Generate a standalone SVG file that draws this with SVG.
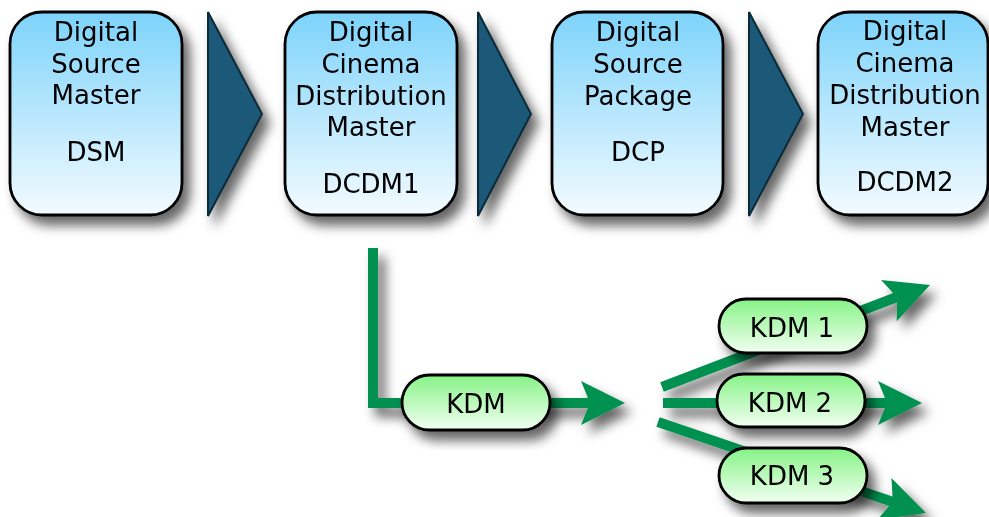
<svg xmlns="http://www.w3.org/2000/svg" xmlns:xlink="http://www.w3.org/1999/xlink" width="989" height="517" viewBox="0 0 989 517">
<style>
.box{fill:url(#blueGrad);stroke:#000;stroke-width:2.8}
.pill{fill:url(#greenGrad);stroke:#000;stroke-width:2.8}
.tri{fill:#1a5978;stroke:#0b2a38;stroke-width:2}
.lbl{font-family:"DejaVu Sans",Verdana,sans-serif;font-size:26px;fill:#000;text-anchor:middle}
.klbl{font-family:"DejaVu Sans",Verdana,sans-serif;font-size:26px;fill:#000;text-anchor:middle}
.gline{fill:none;stroke:#00904f;stroke-width:10;stroke-linejoin:miter;stroke-linecap:butt}
.ahead{fill:#00904f}
</style>
<defs>
<linearGradient id="blueGrad" x1="0" y1="0" x2="0" y2="1">
<stop offset="0" stop-color="#7dd3fb"/>
<stop offset="1" stop-color="#f3fbff"/>
</linearGradient>
<linearGradient id="greenGrad" x1="0" y1="0" x2="0" y2="1">
<stop offset="0" stop-color="#86f386"/>
<stop offset="1" stop-color="#f2fff2"/>
</linearGradient>
<filter id="shadow" x="-25%" y="-25%" width="160%" height="160%">
<feGaussianBlur in="SourceAlpha" stdDeviation="6"/>
<feOffset dx="7" dy="9" result="b"/>
<feFlood flood-color="#000" flood-opacity="0.6"/>
<feComposite in2="b" operator="in"/>
<feMerge><feMergeNode/><feMergeNode in="SourceGraphic"/></feMerge>
</filter>
<path id="head" d="M0,0 L-44,-22 L-35,0 L-44,22 Z"/>
</defs>

<g id="connectors" filter="url(#shadow)">
<polygon class="tri" points="208,12 262,114 208,216"/>
<polygon class="tri" points="478,12 531,114 478,216"/>
<polygon class="tri" points="749,12 803,114 749,216"/>
<path class="gline" d="M373,248 V403 H591"/>
<use xlink:href="#head" class="ahead" transform="translate(625,403)"/>
<path class="gline" d="M662,387 L897,297"/>
<use xlink:href="#head" class="ahead" transform="translate(930,285) rotate(-20.8)"/>
<path class="gline" d="M663,403 H887"/>
<use xlink:href="#head" class="ahead" transform="translate(922,403)"/>
<path class="gline" d="M658,422 L893,502"/>
<use xlink:href="#head" class="ahead" transform="translate(926,513) rotate(18.8)"/>
</g>

<g id="dsm" filter="url(#shadow)">
<rect class="box" x="10" y="12" width="172" height="203" rx="32"/>
<text class="lbl" x="96" y="41">Digital</text>
<text class="lbl" x="96" y="73">Source</text>
<text class="lbl" x="96" y="104">Master</text>
<text class="lbl" x="96" y="161">DSM</text>
</g>

<g id="dcdm1" filter="url(#shadow)">
<rect class="box" x="285" y="12" width="172" height="203" rx="32"/>
<text class="lbl" x="371" y="41">Digital</text>
<text class="lbl" x="371" y="73">Cinema</text>
<text class="lbl" x="371" y="105">Distribution</text>
<text class="lbl" x="371" y="136">Master</text>
<text class="lbl" x="371" y="193">DCDM1</text>
</g>

<g id="dcp" filter="url(#shadow)">
<rect class="box" x="552" y="12" width="171" height="203" rx="32"/>
<text class="lbl" x="638" y="41">Digital</text>
<text class="lbl" x="638" y="73">Source</text>
<text class="lbl" x="638" y="105">Package</text>
<text class="lbl" x="638" y="161">DCP</text>
</g>

<g id="dcdm2" filter="url(#shadow)">
<rect class="box" x="818" y="12" width="170" height="203" rx="32"/>
<text class="lbl" x="905" y="40">Digital</text>
<text class="lbl" x="905" y="72">Cinema</text>
<text class="lbl" x="905" y="104">Distribution</text>
<text class="lbl" x="905" y="136">Master</text>
<text class="lbl" x="905" y="191">DCDM2</text>
</g>

<g id="kdm" filter="url(#shadow)">
<rect class="pill" x="402" y="375" width="148" height="55" rx="27.5"/>
<text class="klbl" x="476" y="413">KDM</text>
</g>

<g id="kdm1" filter="url(#shadow)">
<rect class="pill" x="719" y="299" width="148" height="54" rx="27"/>
<text class="klbl" x="792" y="337">KDM 1</text>
</g>

<g id="kdm2" filter="url(#shadow)">
<rect class="pill" x="717" y="374" width="148" height="53" rx="26.5"/>
<text class="klbl" x="790" y="412">KDM 2</text>
</g>

<g id="kdm3" filter="url(#shadow)">
<rect class="pill" x="719" y="448" width="148" height="55" rx="27.5"/>
<text class="klbl" x="792" y="485">KDM 3</text>
</g>
</svg>
